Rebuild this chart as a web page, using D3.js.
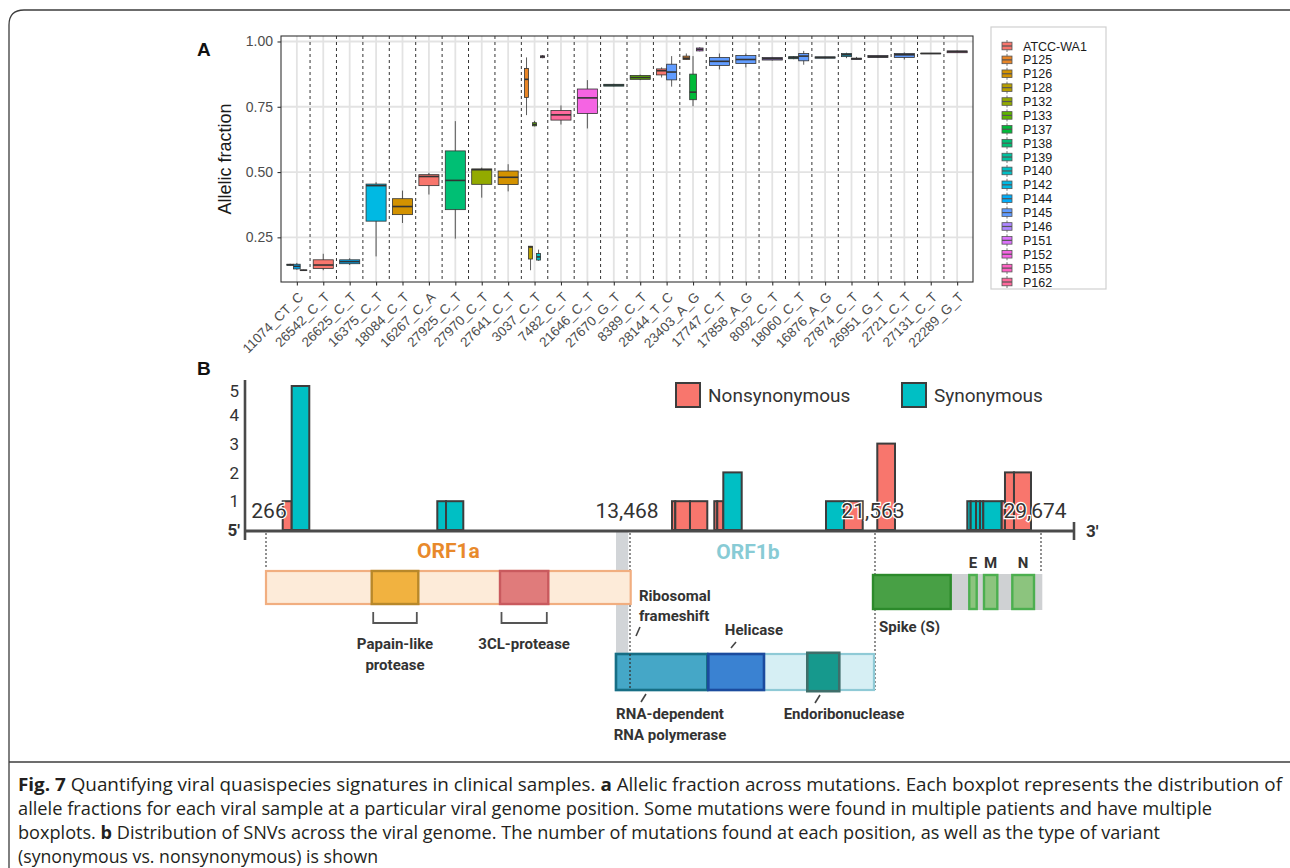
<!DOCTYPE html>
<html>
<head>
<meta charset="utf-8">
<script src="https://cdn.jsdelivr.net/npm/d3@7"></script>
<style>
  html, body { margin: 0; padding: 0; background: #fff; }
  svg { display: block; }
</style>
</head>
<body>
<svg id="fig" width="1290" height="868"></svg>
<script>
// ---------- data: panel A ----------
const mutations = ["11074_CT_C","26542_C_T","26625_C_T","16375_C_T","18084_C_T","16267_C_A","27925_C_T",
  "27970_C_T","27641_C_T","3037_C_T","7482_C_T","21646_C_T","27670_G_T","8389_C_T","28144_T_C","23403_A_G",
  "17747_C_T","17858_A_G","8092_C_T","18060_C_T","16876_A_G","27874_C_T","26951_G_T","2721_C_T","27131_C_T","22289_G_T"];

const samples = ["ATCC-WA1","P125","P126","P128","P132","P133","P137","P138","P139","P140",
  "P142","P144","P145","P146","P151","P152","P155","P162"];

const yTicks = [0.25, 0.50, 0.75, 1.00];

// mutation, sample, lower whisker, q1, median, q3, upper whisker
const boxStats = [
  ["11074_CT_C","P142",0.141,0.143,0.145,0.147,0.149],
  ["11074_CT_C","P144",0.126,0.129,0.139,0.147,0.152],
  ["11074_CT_C","P151",0.122,0.123,0.124,0.125,0.126],
  ["26542_C_T","ATCC-WA1",0.124,0.131,0.144,0.164,0.187],
  ["26625_C_T","P144",0.144,0.149,0.157,0.164,0.170],
  ["16375_C_T","P142",0.177,0.312,0.448,0.454,0.461],
  ["18084_C_T","P126",0.305,0.337,0.368,0.398,0.429],
  ["16267_C_A","ATCC-WA1",0.414,0.448,0.483,0.490,0.497],
  ["27925_C_T","P138",0.245,0.356,0.468,0.581,0.695],
  ["27970_C_T","P132",0.402,0.453,0.509,0.512,0.517],
  ["27641_C_T","P126",0.426,0.452,0.480,0.504,0.530],
  ["3037_C_T","P125",0.718,0.786,0.855,0.897,0.939],
  ["3037_C_T","P128",0.124,0.167,0.213,0.216,0.217],
  ["3037_C_T","P133",0.675,0.677,0.682,0.689,0.696],
  ["3037_C_T","P140",0.160,0.163,0.175,0.188,0.203],
  ["3037_C_T","P152",0.936,0.938,0.942,0.945,0.948],
  ["7482_C_T","P162",0.682,0.699,0.719,0.736,0.755],
  ["21646_C_T","P152",0.667,0.724,0.784,0.818,0.852],
  ["27670_G_T","P139",0.828,0.829,0.833,0.836,0.838],
  ["8389_C_T","P133",0.852,0.855,0.862,0.870,0.873],
  ["28144_T_C","ATCC-WA1",0.862,0.872,0.888,0.895,0.901],
  ["28144_T_C","P145",0.827,0.853,0.883,0.913,0.944],
  ["23403_A_G","P125",0.931,0.931,0.936,0.944,0.954],
  ["23403_A_G","P137",0.752,0.777,0.806,0.875,0.944],
  ["23403_A_G","P151",0.962,0.964,0.970,0.975,0.978],
  ["17747_C_T","P145",0.893,0.908,0.924,0.939,0.954],
  ["17858_A_G","P145",0.901,0.916,0.931,0.946,0.954],
  ["8092_C_T","P146",0.927,0.929,0.934,0.939,0.941],
  ["18060_C_T","P139",0.932,0.934,0.938,0.942,0.944],
  ["18060_C_T","P145",0.911,0.926,0.944,0.954,0.964],
  ["16876_A_G","P144",0.935,0.936,0.939,0.941,0.942],
  ["27874_C_T","P142",0.936,0.942,0.949,0.954,0.957],
  ["27874_C_T","P146",0.930,0.931,0.934,0.936,0.941],
  ["26951_G_T","P146",0.937,0.939,0.942,0.946,0.947],
  ["2721_C_T","P145",0.931,0.939,0.949,0.954,0.958],
  ["27131_C_T","P132",0.953,0.953,0.954,0.955,0.955],
  ["22289_G_T","P155",0.956,0.957,0.961,0.964,0.965]
];

// ---------- data: panel B ----------
const countTicks = [1, 2, 3, 4, 5];
const snvTypes = ["Nonsynonymous", "Synonymous"];
// genome start, genome end, number of mutations, type
const snvBars = [
  [872, 1198, 1, "Nonsynonymous"],
  [1198, 1836, 5, "Synonymous"],
  [6479, 6795, 1, "Synonymous"],
  [6795, 7422, 1, "Synonymous"],
  [14856, 14965, 1, "Nonsynonymous"],
  [14965, 15450, 1, "Nonsynonymous"],
  [15450, 16022, 1, "Nonsynonymous"],
  [16253, 16352, 1, "Nonsynonymous"],
  [16352, 16551, 1, "Nonsynonymous"],
  [16551, 17159, 2, "Synonymous"],
  [19944, 20539, 1, "Synonymous"],
  [20539, 21157, 1, "Nonsynonymous"],
  [21675, 22540, 3, "Nonsynonymous"],
  [26073, 26239, 1, "Synonymous"],
  [26239, 26498, 1, "Synonymous"],
  [26498, 26693, 1, "Synonymous"],
  [26693, 26854, 1, "Synonymous"],
  [26854, 27753, 1, "Synonymous"],
  [27753, 27914, 1, "Nonsynonymous"],
  [27914, 28354, 2, "Nonsynonymous"],
  [28354, 29185, 2, "Nonsynonymous"]
];
const landmarks = [266, 13468, 21563, 29674];
const genomeEnds = [1, 29903];
const orf1a = [266, 13491];
const orf1b = [12960, 21529];
const frameshift = [12960, 13406];
const structRegion = [21497, 29683];
const orf1aDomains = [["Papain-like protease", 4100, 5790], ["3CL-protease", 8753, 10505]];
const orf1bDomains = [["RNA-dependent RNA polymerase", 12960, 16022], ["Helicase", 16055, 17895], ["Endoribonuclease", 19326, 20383]];
const structGenes = [["Spike (S)", 21497, 25262], ["E", 26170, 26532], ["M", 26889, 27539], ["N", 28272, 29332]];

// ---------- colours ----------
// ggplot2 hue palette (polar LUV, l=65, c=100)
function hueLuv(h, c, l) {
  const hr = h * Math.PI / 180, U = c * Math.cos(hr), V = c * Math.sin(hr);
  const Xn = 95.047, Yn = 100, Zn = 108.883, den = Xn + 15 * Yn + 3 * Zn;
  const un = 4 * Xn / den, vn = 9 * Yn / den;
  const Y = l > 8 ? Yn * Math.pow((l + 16) / 116, 3) : Yn * l / 903.3;
  const up = U / (13 * l) + un, vp = V / (13 * l) + vn;
  const X = Y * 9 * up / (4 * vp), Z = Y * (12 - 3 * up - 20 * vp) / (4 * vp);
  const x = X / 100, y = Y / 100, z = Z / 100;
  const lin = [3.240479 * x - 1.537150 * y - 0.498535 * z,
              -0.969256 * x + 1.875992 * y + 0.041556 * z,
               0.055648 * x - 0.204043 * y + 1.057311 * z];
  const g = lin.map(v => { v = v <= 0.0031308 ? 12.92 * v : 1.055 * Math.pow(v, 1 / 2.4) - 0.055;
                           return Math.round(Math.max(0, Math.min(1, v)) * 255); });
  return d3.rgb(g[0], g[1], g[2]).formatHex();
}
const sampleColor = d3.scaleOrdinal().domain(samples)
  .range(samples.map((s, i) => hueLuv(15 + 360 / samples.length * i, 100, 65)));
const typeColor = d3.scaleOrdinal().domain(snvTypes).range(["#f8766d", "#00bfc4"]);
const featureStyle = {
  "Papain-like protease": { fill: "#f1b240", stroke: "#b8882a" },
  "3CL-protease": { fill: "#e07b7b", stroke: "#c95a5e" },
  "RNA-dependent RNA polymerase": { fill: "#45a7c7", stroke: "#176e85" },
  "Helicase": { fill: "#3a82d2", stroke: "#1b4b9e" },
  "Endoribonuclease": { fill: "#16998d", stroke: "#3f6e6a" },
  "Spike (S)": { fill: "#48a045", stroke: "#2c8a2b" },
  "E": { fill: "#8cc47e", stroke: "#4caf4f" },
  "M": { fill: "#8cc47e", stroke: "#4caf4f" },
  "N": { fill: "#8cc47e", stroke: "#4caf4f" }
};

const svg = d3.select("#fig");
const sansA = "'Liberation Sans', Arial, sans-serif";
const sansB = "Roboto, 'Noto Sans', sans-serif";

// ---------- frame ----------
svg.append("path")
  .attr("d", "M1292,10 L24,10 Q9,10 9,25 L9,870")
  .attr("fill", "none").attr("stroke", "#3c3c3c").attr("stroke-width", 1.3);
svg.append("line").attr("x1", 9).attr("x2", 1292).attr("y1", 762).attr("y2", 762)
  .attr("stroke", "#3c3c3c").attr("stroke-width", 1.3);

// ---------- panel A ----------
const pa = { left: 281, right: 973, top: 36, bottom: 282 };
const x = d3.scalePoint().domain(mutations).range([pa.left, pa.right]).padding(0.6);
const y = d3.scaleLinear().domain([0.079, 1.021]).range([pa.bottom, pa.top]);
const gA = svg.append("g");

gA.append("rect").attr("x", pa.left).attr("y", pa.top)
  .attr("width", pa.right - pa.left).attr("height", pa.bottom - pa.top).attr("fill", "#fff");
gA.selectAll(".hgrid").data(yTicks).join("line")
  .attr("x1", pa.left).attr("x2", pa.right).attr("y1", d => y(d)).attr("y2", d => y(d))
  .attr("stroke", "#e3e3e3").attr("stroke-width", 1.8);
gA.selectAll(".vgrid").data(mutations).join("line")
  .attr("x1", d => x(d)).attr("x2", d => x(d)).attr("y1", pa.top).attr("y2", pa.bottom)
  .attr("stroke", "#e3e3e3").attr("stroke-width", 1.8);
gA.selectAll(".sep").data(mutations.slice(1)).join("line")
  .attr("x1", d => x(d) - x.step() / 2).attr("x2", d => x(d) - x.step() / 2)
  .attr("y1", pa.top).attr("y2", pa.bottom)
  .attr("stroke", "#333").attr("stroke-width", 1).attr("stroke-dasharray", "3,3");

const boxW = x.step() * 0.76;
const groups = d3.group(boxStats, d => d[0]);
groups.forEach((rows, mut) => {
  const inner = d3.scaleBand().domain(rows.map(r => r[1]))
    .range([x(mut) - boxW / 2, x(mut) + boxW / 2]);
  const g = gA.append("g");
  rows.forEach(r => {
    const [m, s, lo, q1, med, q3, hi] = r;
    const cx = inner(s) + inner.bandwidth() / 2;
    g.append("line").attr("x1", cx).attr("x2", cx).attr("y1", y(hi)).attr("y2", y(lo))
      .attr("stroke", "#333").attr("stroke-width", 0.8);
    g.append("rect").attr("x", inner(s)).attr("width", inner.bandwidth())
      .attr("y", y(q3)).attr("height", Math.max(0.5, y(q1) - y(q3)))
      .attr("fill", sampleColor(s)).attr("stroke", "#333").attr("stroke-width", 0.8);
    g.append("line").attr("x1", inner(s)).attr("x2", inner(s) + inner.bandwidth())
      .attr("y1", y(med)).attr("y2", y(med)).attr("stroke", "#333").attr("stroke-width", 1.6);
  });
});

gA.append("rect").attr("x", pa.left).attr("y", pa.top)
  .attr("width", pa.right - pa.left).attr("height", pa.bottom - pa.top)
  .attr("fill", "none").attr("stroke", "#333").attr("stroke-width", 1.1);

const yAxis = gA.append("g").attr("transform", `translate(${pa.left},0)`)
  .call(d3.axisLeft(y).tickValues(yTicks).tickFormat(d3.format(".2f")).tickSize(3.5).tickPadding(4.5));
yAxis.select(".domain").remove();
yAxis.selectAll("line").attr("stroke", "#333").attr("stroke-width", 1.1);
yAxis.selectAll("text").attr("fill", "#4d4d4d").style("font", `14px ${sansA}`);

const xAxis = gA.append("g").attr("transform", `translate(0,${pa.bottom})`)
  .call(d3.axisBottom(x).tickSize(3.5).tickSizeOuter(0));
xAxis.select(".domain").remove();
xAxis.selectAll("line").attr("stroke", "#333").attr("stroke-width", 1.1);
xAxis.selectAll("text").attr("fill", "#4d4d4d").style("font", `13.5px ${sansA}`)
  .attr("text-anchor", "end").attr("dy", "0.72em").attr("y", 0).attr("x", 0)
  .attr("transform", "translate(0,9) rotate(-45)");

gA.append("text").attr("transform", `translate(231,${(pa.top + pa.bottom) / 2}) rotate(-90)`)
  .attr("text-anchor", "middle").attr("fill", "#1a1a1a")
  .style("font", `18px ${sansA}`).text("Allelic fraction");
gA.append("text").attr("x", 197).attr("y", 56).attr("fill", "#111")
  .style("font", `bold 19px ${sansA}`).text("A");

// legend
const lg = gA.append("g");
lg.append("rect").attr("x", 991).attr("y", 27).attr("width", 115).attr("height", 262)
  .attr("fill", "#fff").attr("stroke", "#d0d0d0").attr("stroke-width", 1.2);
const rowY = d3.scalePoint().domain(samples).range([46, 282]);
samples.forEach(s => {
  const cy = rowY(s);
  lg.append("line").attr("x1", 1007).attr("x2", 1007).attr("y1", cy - 6).attr("y2", cy + 6)
    .attr("stroke", "#555").attr("stroke-width", 0.8);
  lg.append("rect").attr("x", 1002).attr("y", cy - 3.8).attr("width", 10).attr("height", 7.6)
    .attr("fill", sampleColor(s)).attr("stroke", "#555").attr("stroke-width", 0.8);
  lg.append("line").attr("x1", 1002).attr("x2", 1012).attr("y1", cy).attr("y2", cy)
    .attr("stroke", "#555").attr("stroke-width", 1.2);
  lg.append("text").attr("x", 1023).attr("y", cy).attr("dy", "0.36em").attr("fill", "#1a1a1a")
    .style("font", `12.5px ${sansA}`).text(s);
});

// ---------- panel B ----------
const gx = d3.scaleLinear()
  .domain([genomeEnds[0], ...landmarks, genomeEnds[1]])
  .range([245, 266, 630, 875, 1041, 1074]);
const cy = d3.scaleLinear().domain([0, 5]).range([530, 386]);
const gB = svg.append("g");

gB.append("text").attr("x", 197).attr("y", 375).attr("fill", "#111")
  .style("font", `bold 19px ${sansA}`).text("B");

// dotted guide lines
const guides = [[landmarks[0], 567], [landmarks[1], 690], [landmarks[2], 690], [landmarks[3], 573]];
gB.append("rect").attr("x", gx(frameshift[0])).attr("width", gx(frameshift[1]) - gx(frameshift[0]))
  .attr("y", 532).attr("height", 122).attr("fill", "#d2d5d8");

// bars
gB.selectAll(".snv").data(snvBars).join("rect")
  .attr("x", d => gx(d[0])).attr("width", d => gx(d[1]) - gx(d[0]))
  .attr("y", d => cy(d[2])).attr("height", d => cy(0) - cy(d[2]))
  .attr("fill", d => typeColor(d[3])).attr("stroke", "#3d3d3d").attr("stroke-width", 2);

// axis + genome line
gB.append("line").attr("x1", 245).attr("x2", 245).attr("y1", 380).attr("y2", 540)
  .attr("stroke", "#4a4a4a").attr("stroke-width", 2.6);
gB.append("line").attr("x1", gx(genomeEnds[0])).attr("x2", gx(genomeEnds[1])).attr("y1", 531).attr("y2", 531)
  .attr("stroke", "#4a4a4a").attr("stroke-width", 3);
gB.append("line").attr("x1", gx(genomeEnds[1])).attr("x2", gx(genomeEnds[1])).attr("y1", 522).attr("y2", 540)
  .attr("stroke", "#4a4a4a").attr("stroke-width", 2.6);
gB.selectAll(".ctick").data(countTicks).join("text")
  .attr("x", 239).attr("y", d => cy(d)).attr("dy", d => d === 5 ? "0.62em" : "0.36em")
  .attr("text-anchor", "end").attr("fill", "#333").style("font", `17px ${sansB}`).text(d => d);
gB.append("text").attr("x", 240).attr("y", 536).attr("text-anchor", "end").attr("fill", "#333")
  .style("font", `bold 17px ${sansB}`).text("5'");
gB.append("text").attr("x", 1086).attr("y", 537).attr("fill", "#333")
  .style("font", `bold 17px ${sansB}`).text("3'");

// landmark numbers
const lmShift = [3, -3, -2, -6];
gB.selectAll(".lm").data(landmarks).join("text")
  .attr("x", (d, i) => gx(d) + lmShift[i]).attr("y", 518).attr("text-anchor", "middle")
  .attr("fill", "#333").attr("stroke", "#fff").attr("stroke-width", 2.5).attr("paint-order", "stroke")
  .style("font", `21px ${sansB}`).text(d => d3.format(d < 1000 ? "d" : ",")(d));

gB.selectAll(".guide").data(guides).join("line")
  .attr("x1", d => gx(d[0])).attr("x2", d => gx(d[0])).attr("y1", 533).attr("y2", d => d[1])
  .attr("stroke", "#555").attr("stroke-width", 1.3).attr("stroke-dasharray", "2,2");

// legend B
const lgB = d3.scalePoint().domain(snvTypes).range([676, 902]);
snvTypes.forEach(t => {
  gB.append("rect").attr("x", lgB(t)).attr("y", 383).attr("width", 24).attr("height", 24)
    .attr("fill", typeColor(t)).attr("stroke", "#3d3d3d").attr("stroke-width", 2);
  gB.append("text").attr("x", lgB(t) + 32).attr("y", 402).attr("fill", "#333")
    .style("font", `19px ${sansB}`).text(t);
});

// ORF1a
gB.append("text").attr("x", (gx(orf1a[0]) + gx(orf1a[1])) / 2).attr("y", 558).attr("text-anchor", "middle")
  .attr("fill", "#e8892b").style("font", `bold 21px ${sansB}`).text("ORF1a");
gB.append("rect").attr("x", gx(orf1a[0])).attr("width", gx(orf1a[1]) - gx(orf1a[0]))
  .attr("y", 571).attr("height", 33).attr("fill", "#fdebd9").attr("stroke", "#f1ae80").attr("stroke-width", 2.2);
orf1aDomains.forEach(([name, a, b]) => {
  const x0 = gx(a), x1 = gx(b);
  gB.append("rect").attr("x", x0).attr("width", x1 - x0).attr("y", 571).attr("height", 33)
    .attr("fill", featureStyle[name].fill).attr("stroke", featureStyle[name].stroke).attr("stroke-width", 2.4);
  gB.append("path").attr("d", `M${x0 + 1.5},612 V623 H${x1 - 1.5} V612`)
    .attr("fill", "none").attr("stroke", "#555").attr("stroke-width", 1.8);
  const words = name === "Papain-like protease" ? ["Papain-like", "protease"] : [name];
  words.forEach((w, i) => gB.append("text").attr("x", (x0 + x1) / 2).attr("y", 649 + i * 20.5)
    .attr("text-anchor", "middle").attr("fill", "#333").style("font", `bold 15px ${sansB}`).text(w));
});

// ORF1b
gB.append("text").attr("x", 748).attr("y", 559).attr("text-anchor", "middle")
  .attr("fill", "#88cbd5").style("font", `bold 21px ${sansB}`).text("ORF1b");
gB.append("rect").attr("x", gx(orf1b[0])).attr("width", gx(orf1b[1]) - gx(orf1b[0]))
  .attr("y", 654).attr("height", 36).attr("fill", "#d6eff4").attr("stroke", "#8fcad6").attr("stroke-width", 2.2);
orf1bDomains.forEach(([name, a, b]) => {
  const big = name === "Endoribonuclease" ? 1.2 : 0;
  gB.append("rect").attr("x", gx(a)).attr("width", gx(b) - gx(a)).attr("y", 654 - big).attr("height", 36 + 2 * big)
    .attr("fill", featureStyle[name].fill).attr("stroke", featureStyle[name].stroke).attr("stroke-width", 2.6);
});
gB.append("line").attr("x1", gx(landmarks[1])).attr("x2", gx(landmarks[1])).attr("y1", 654).attr("y2", 690)
  .attr("stroke", "#333").attr("stroke-width", 1.3).attr("stroke-dasharray", "2,2");
const bLabel = (txt, xx, yy, anchor) => gB.append("text").attr("x", xx).attr("y", yy)
  .attr("text-anchor", anchor).attr("fill", "#333").style("font", `bold 15px ${sansB}`).text(txt);
const slash = (x1, y1, x2, y2) => gB.append("line").attr("x1", x1).attr("y1", y1).attr("x2", x2).attr("y2", y2)
  .attr("stroke", "#444").attr("stroke-width", 1.6);
bLabel("Ribosomal", 639, 601, "start");
bLabel("frameshift", 639, 621, "start");
slash(640, 627, 636, 636);
bLabel("Helicase", 754, 635, "middle");
slash(736, 642, 731, 648);
bLabel("RNA-dependent", 670, 719, "middle");
bLabel("RNA polymerase", 670, 740, "middle");
slash(646, 694, 641, 702);
bLabel("Endoribonuclease", 844, 719, "middle");
slash(820, 695, 815, 703);

// structural genes
gB.append("rect").attr("x", gx(structRegion[0])).attr("width", gx(structRegion[1]) - gx(structRegion[0]))
  .attr("y", 574).attr("height", 36).attr("fill", "#cfd1d3");
structGenes.forEach(([name, a, b]) => {
  gB.append("rect").attr("x", gx(a)).attr("width", gx(b) - gx(a)).attr("y", 575).attr("height", 34)
    .attr("fill", featureStyle[name].fill).attr("stroke", featureStyle[name].stroke).attr("stroke-width", 2.4);
  if (name === "Spike (S)") bLabel(name, 879, 632, "start");
  else bLabel(name, (gx(a) + gx(b)) / 2, 568, "middle");
});

// ---------- caption ----------
const capFont = "'Liberation Sans Narrow', 'Open Sans', 'Noto Sans', sans-serif";
const caption = [
  [["Fig. 7", true], [" Quantifying viral quasispecies signatures in clinical samples. ", false], ["a", true],
   [" Allelic fraction across mutations. Each boxplot represents the distribution of", false]],
  [["allele fractions for each viral sample at a particular viral genome position. Some mutations were found in multiple patients and have multiple", false]],
  [["boxplots. ", false], ["b", true], [" Distribution of SNVs across the viral genome. The number of mutations found at each position, as well as the type of variant", false]],
  [["(synonymous vs. nonsynonymous) is shown", false]]
];
const capWidths = [1264, 1194, 1142, 360];
const capY = d3.scalePoint().domain(d3.range(caption.length)).range([791, 863]);
caption.forEach((parts, i) => {
  const t = svg.append("text").attr("x", 18).attr("y", capY(i)).attr("fill", "#231f20")
    .attr("textLength", capWidths[i]).attr("lengthAdjust", "spacingAndGlyphs")
    .style("font", `18px ${capFont}`);
  parts.forEach(([s, b]) => t.append("tspan").attr("font-weight", b ? "bold" : "normal").text(s));
});
</script>
</body>
</html>
